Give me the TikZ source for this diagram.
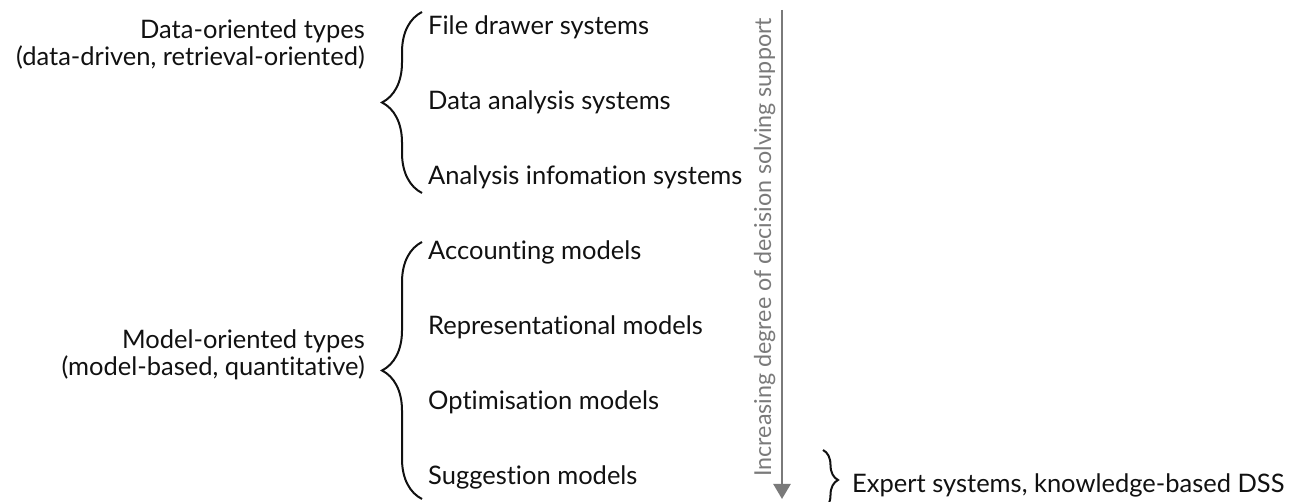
\documentclass[tikz,border=0pt]{standalone}
\usepackage{fontspec}
\setmainfont{Lato}[Ligatures=NoCommon]
\usetikzlibrary{decorations.pathreplacing,arrows.meta}
\definecolor{axisgray}{HTML}{7A7A7A}
\definecolor{ink}{HTML}{111111}
\begin{document}
\begin{tikzpicture}[x=1pt,y=1pt,
  txt/.style={inner sep=0pt,text=ink,font=\fontsize{25.5}{30}\selectfont},
  item/.style={txt,anchor=base west},
  group/.style={txt,anchor=base east},
  curly/.style={decorate,decoration={brace,amplitude=#1},line width=2pt,draw=ink},
  axis/.style={draw=axisgray,line width=2.4pt,-{Triangle[width=17pt,length=15pt]}}
]
\useasboundingbox (0,0) rectangle (1303,502);

% group labels
\node[group] (d1) at (365,463) {Data-oriented types};
\node[group] (d2) at (365,436) {(data-driven, retrieval-oriented)};
\node[group] (m1) at (365,153) {Model-oriented types};
\node[group] (m2) at (365,126) {(model-based, quantitative)};

% system types
\node[item] (i1) at (428,467) {File drawer systems};
\node[item] (i2) at (428,392) {Data analysis systems};
\node[item] (i3) at (428,317) {Analysis infomation systems};
\node[item] (i4) at (428,242) {Accounting models};
\node[item] (i5) at (428,167) {Representational models};
\node[item] (i6) at (428,92)  {Optimisation models};
\node[item] (i7) at (428,17)  {Suggestion models};
\node[item] (ex) at (852,9)   {Expert systems, knowledge-based DSS};

% braces
\coordinate (b1a) at (422,309);
\coordinate (b1b) at (422,490);
\coordinate (b2a) at (422,3);
\coordinate (b2b) at (422,260);
\coordinate (b3a) at (823,52);
\coordinate (b3b) at (823,-8);
\draw[curly=40pt] (b1a) -- (b1b);
\draw[curly=40pt] (b2a) -- (b2b);
\draw[curly=15pt] (b3a) -- (b3b);

% support axis
\coordinate (ax0) at (782,492);
\coordinate (ax1) at (782,3);
\draw[axis] (ax0) -- (ax1);
\node[txt,text=axisgray,anchor=base west,rotate=90,font=\fontsize{23.3}{28}\selectfont] (axl) at (771,25)
  {Increasing degree of decision solving support};
\end{tikzpicture}
\end{document}
